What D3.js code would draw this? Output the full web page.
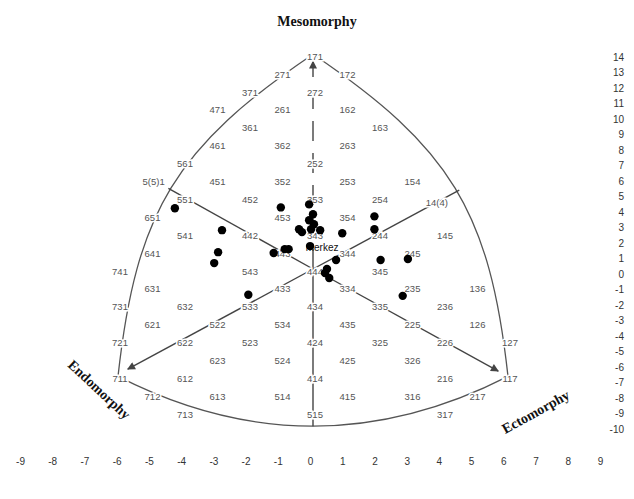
<!DOCTYPE html>
<html>
<head>
<meta charset="utf-8">
<script src="https://cdn.jsdelivr.net/npm/d3@7.9.0/dist/d3.min.js"></script>
<style>
  body { margin: 0; background: #fff; }
  svg { display: block; font-family: "Liberation Sans", Arial, sans-serif; }
</style>
</head>
<body>
<svg id="chart" width="634" height="499"></svg>
<script>
// somatotypes printed on the chart (endo, meso, ecto digits)
const gridLabels = [
  '171', '271', '172', '371', '272', '471', '261', '162', '361', '163', '461', '362', '263',
  '561', '252', '451', '352', '253', '154', '551', '452', '353', '254', '651', '453', '354',
  '145', '343', '244', '541', '442', '443', '641', '344', '245', '543', '741', '444', '345',
  '631', '433', '334', '136', '235', '731', '632', '533', '434', '335', '236', '522', '621',
  '534', '225', '126', '435', '721', '622', '523', '424', '325', '226', '127', '623', '524',
  '425', '326', '711', '612', '414', '216', '117', '712', '613', '514', '415', '316', '217',
  '713', '515', '317'
];
const halfLabels = [['5(5)1', 5.5, 5.5, 1], ['14(4)', 1, 4.5, 4.5]];

// subjects, chart units (x = ecto - endo, y = 2*meso - endo - ecto)
const subjX = [-4.25, -2.8, -2.92, -3.04, -1.99, -1.21, -0.87, -0.75, -0.99, -0.12, 0.0, -0.12, 0.03, -0.43,
  -0.34, -0.06, 0.22, 0.9, 1.89, 1.89, 0.71, 0.43, 0.37, 0.5, 2.08, 2.92, 2.76];
const subjY = [3.39, 2.17, 0.94, 0.33, -1.44, 0.89, 1.11, 1.11, 3.44, 3.61, 3.06, 2.72, 2.5, 2.22,
  2.06, 2.22, 2.17, 2.0, 2.94, 2.22, 0.5, 0.0, -0.22, -0.5, 0.5, 0.56, -1.5];
const merkez = [-0.09, 1.28];

const xTicks = [-9, -8, -7, -6, -5, -4, -3, -2, -1, 0, 1, 2, 3, 4, 5, 6, 7, 8, 9];
const yTicks = [14, 13, 12, 11, 10, 9, 8, 7, 6, 5, 4, 3, 2, 1, 0, -1, -2, -3, -4, -5, -6, -7, -8, -9, -10];

// outline handles (chart units)
const leftArc = [[-4.22, 6.82], [-5.44, 3.24]];
const rightArc = [[4.22, 6.82], [5.44, 3.24]];
const bottomArc = [0, -11.56];

const svg = d3.select('#chart');
const x = d3.scaleLinear().domain([-6, 6]).range([118, 508]);
const y = d3.scaleLinear().domain([-6, 12]).range([376.4, 54.2]);
const axisX = d3.scaleLinear().domain([-9, 9]).range([20, 600]);
const axisY = d3.scaleLinear().domain([-10, 14]).range([429, 57]);

function soma(a, b, c) { return [c - a, 2 * b - a - c]; }
function somaStr(s) { return soma(+s[0], +s[1], +s[2]); }

const cTop = somaStr('171'), cLeft = somaStr('711'), cRight = somaStr('117');

// arrowhead
svg.append('defs').append('marker')
  .attr('id', 'arrow')
  .attr('viewBox', '0 0 10 10')
  .attr('refX', 9).attr('refY', 5)
  .attr('markerWidth', 11).attr('markerHeight', 8)
  .attr('markerUnits', 'userSpaceOnUse')
  .attr('orient', 'auto')
  .append('path').attr('d', 'M0,0L10,5L0,10z').attr('fill', '#444');

// chart outline
const p = d3.path();
p.moveTo(x(cTop[0]), y(cTop[1]));
p.bezierCurveTo(x(leftArc[0][0]), y(leftArc[0][1]), x(leftArc[1][0]), y(leftArc[1][1]), x(cLeft[0]), y(cLeft[1]));
p.quadraticCurveTo(x(bottomArc[0]), y(bottomArc[1]), x(cRight[0]), y(cRight[1]));
p.bezierCurveTo(x(rightArc[1][0]), y(rightArc[1][1]), x(rightArc[0][0]), y(rightArc[0][1]), x(cTop[0]), y(cTop[1]));
svg.append('path').attr('d', p.toString())
  .attr('fill', 'none').attr('stroke', '#555').attr('stroke-width', 1.3);

// axes of the chart through 444
const lines = svg.append('g').attr('stroke', '#444').attr('stroke-width', 1.4).attr('fill', 'none');
lines.append('line')
  .attr('x1', x(0)).attr('y1', y(0)).attr('x2', x(0)).attr('y2', y(11.6))
  .attr('stroke-dasharray', '20,12').attr('marker-end', 'url(#arrow)');
lines.append('line')
  .attr('x1', x(0)).attr('y1', y(0)).attr('x2', x(0)).attr('y2', y(bottomArc[1] / 2 + cLeft[1] / 2));
lines.append('line')
  .attr('x1', x(0)).attr('y1', y(0)).attr('x2', x(-5.7)).attr('y2', y(-5.6)).attr('marker-end', 'url(#arrow)');
lines.append('line')
  .attr('x1', x(0)).attr('y1', y(0)).attr('x2', x(5.7)).attr('y2', y(-5.7)).attr('marker-end', 'url(#arrow)');
lines.append('line')
  .attr('x1', x(0)).attr('y1', y(0)).attr('x2', x(-4.45)).attr('y2', y(4.5));
lines.append('line')
  .attr('x1', x(0)).attr('y1', y(0)).attr('x2', x(4.5)).attr('y2', y(4.4));

// somatotype labels
const labelG = svg.append('g')
  .attr('font-size', 9.5).attr('fill', '#555')
  .attr('stroke', '#fff').attr('stroke-width', 3).attr('paint-order', 'stroke')
  .attr('text-anchor', 'middle');
labelG.selectAll('text.g')
  .data(gridLabels)
  .join('text')
  .attr('class', 'g')
  .attr('x', d => x(somaStr(d)[0]) + 2)
  .attr('y', d => y(somaStr(d)[1]) + 5.5)
  .text(d => d);
labelG.selectAll('text.h')
  .data(halfLabels)
  .join('text')
  .attr('class', 'h')
  .attr('text-anchor', (d, i) => i === 0 ? 'end' : 'middle')
  .attr('x', d => x(soma(d[1], d[2], d[3])[0]) + (d[1] > 4 ? -2 : 10))
  .attr('y', d => y(soma(d[1], d[2], d[3])[1]) + (d[1] > 4 ? -3 : 0))
  .text(d => d[0]);

// subjects
svg.append('g').selectAll('circle')
  .data(subjX)
  .join('circle')
  .attr('cx', d => x(d))
  .attr('cy', (d, i) => y(subjY[i]))
  .attr('r', 4.2)
  .attr('fill', '#000');

svg.append('text')
  .attr('x', x(merkez[0]) + 12).attr('y', y(merkez[1]) + 4.5)
  .attr('text-anchor', 'middle').attr('font-size', 10).attr('fill', '#111')
  .text('merkez');
svg.append('circle').attr('cx', x(merkez[0])).attr('cy', y(merkez[1])).attr('r', 4.2).attr('fill', '#000');

// titles
const title = svg.append('g')
  .attr('font-family', '"Liberation Serif", "Times New Roman", serif')
  .attr('font-weight', 'bold').attr('font-size', 14).attr('fill', '#111')
  .attr('text-anchor', 'middle');
title.append('text').attr('x', 317).attr('y', 26).text('Mesomorphy');
title.append('text').attr('transform', 'translate(96,393) rotate(43)').text('Endomorphy');
title.append('text').attr('transform', 'translate(538,416) rotate(-29)').text('Ectomorphy');

// margin rulers
const gx = svg.append('g')
  .attr('transform', 'translate(0,458)')
  .call(d3.axisBottom(axisX).tickValues(xTicks).tickSize(0).tickPadding(0).tickFormat(d => String(d)));
const gy = svg.append('g')
  .attr('transform', 'translate(624,0)')
  .call(d3.axisLeft(axisY).tickValues(yTicks).tickSize(0).tickPadding(0).tickFormat(d => String(d)));
[gx, gy].forEach(g => {
  g.select('.domain').remove();
  g.selectAll('text').attr('font-size', 10).attr('fill', '#333')
    .attr('font-family', '"Liberation Sans", Arial, sans-serif');
});
</script>
</body>
</html>
